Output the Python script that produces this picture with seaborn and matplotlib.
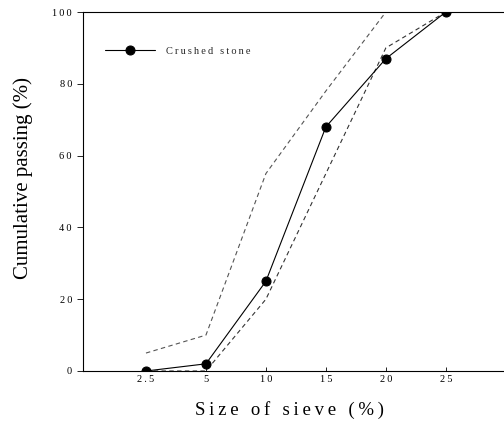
import numpy as np
import pandas as pd
import matplotlib
matplotlib.use("Agg")
import matplotlib.pyplot as plt
import seaborn as sns

# ---- data ----
sieve_labels = ["2.5", "5", "10", "15", "20", "25"]
crushed_stone = [0, 2, 25, 68, 87, 100]
upper_limit = [5, 10, 55, 78, 100, 100]
lower_limit = [0, 0, 20, 55, 90, 100]
y_ticks = [0, 20, 40, 60, 80, 100]

sns.set_theme(style="white")
plt.rcParams["font.family"] = ["Liberation Serif", "DejaVu Serif"]


def spaced(s, sp="\u2009"):
    return sp.join(s)


pos = np.arange(len(sieve_labels))
df = pd.DataFrame({
    "pos": pos,
    "crushed": crushed_stone,
    "upper": upper_limit,
    "lower": lower_limit,
})

fig = plt.figure(figsize=(5.04, 4.26), dpi=100)
ax = fig.add_axes([83 / 504, 1 - 371 / 426, (504 - 83) / 504, (371 - 12) / 426])

sns.lineplot(data=df, x="pos", y="upper", ax=ax, color="#555555", lw=0.8,
             linestyle=(0, (4, 3)), sort=False)
sns.lineplot(data=df, x="pos", y="lower", ax=ax, color="#333333", lw=0.8,
             linestyle=(0, (4, 3)), sort=False)
sns.lineplot(data=df, x="pos", y="crushed", ax=ax, color="black", lw=0.8,
             marker="o", markersize=6.5, markeredgecolor="black",
             sort=False, label=spaced("Crushed stone"))

ax.set_xlim(-1.05, 5.97)
ax.set_ylim(0, 100)
ax.set_xticks(pos)
ax.set_xticklabels([spaced(s) for s in sieve_labels])
ax.set_yticks(y_ticks)
ax.set_yticklabels([spaced(str(v)) for v in y_ticks])
ax.tick_params(axis="x", direction="in", length=3, width=0.6, pad=3,
               labelsize=7.5, colors="black", bottom=True)
ax.tick_params(axis="y", direction="out", length=4, width=0.6, pad=4,
               labelsize=7.5, colors="black", left=True)

for side in ["left", "bottom", "top"]:
    ax.spines[side].set_color("black")
    ax.spines[side].set_linewidth(0.8)
ax.spines["right"].set_visible(False)

ax.set_xlabel(spaced("Size of sieve (%)"), fontsize=13.5, color="black")
ax.set_ylabel("Cumulative passing (%)", fontsize=15, color="black")
ax.xaxis.set_label_coords(0.49, -0.085)
ax.yaxis.set_label_coords(-0.119, 0.538)

handles, labels = ax.get_legend_handles_labels()
ax.legend(handles, labels, loc="center left", bbox_to_anchor=(0.052, 0.891),
          frameon=False, borderpad=0, borderaxespad=0, handlelength=4.8,
          handletextpad=1.1, fontsize=7.5)

fig.savefig("out.png", dpi=100)
